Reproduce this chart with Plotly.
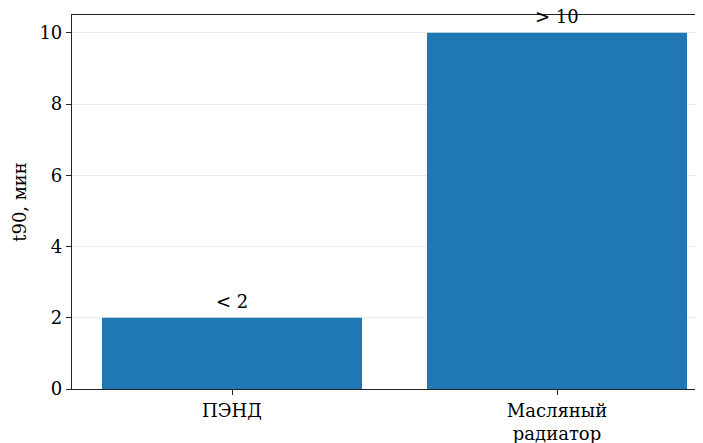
import plotly.graph_objects as go

categories = ["ПЭНД", "Масляный<br>радиатор"]
values = [2, 10]
labels = ["< 2", "> 10"]
yticks = [0, 2, 4, 6, 8, 10]

FONT = "DejaVu Serif"
fig = go.Figure()
fig.add_trace(go.Bar(x=[0, 1], y=values, width=0.8, marker=dict(color="#1f77b4", line=dict(width=0)),
                     showlegend=False, hoverinfo="skip"))
for i, (v, t) in enumerate(zip(values, labels)):
    fig.add_annotation(x=i, y=v, text=t, showarrow=False, yanchor="bottom", yshift=4,
                       font=dict(family=FONT, size=18, color="#000"))

fig.update_layout(
    width=696, height=436, margin=dict(l=64, r=0, t=7, b=53),
    plot_bgcolor="white", paper_bgcolor="white",
    font=dict(family=FONT, size=18, color="#000"),
    xaxis=dict(range=[-0.4923, 1.4523], tickvals=[0, 1], ticktext=categories,
               showline=True, linecolor="#222", linewidth=1.2, mirror=True,
               ticks="outside", ticklen=5, tickcolor="#222", showgrid=False, zeroline=False),
    yaxis=dict(range=[0, 10.5], tickvals=yticks, showline=True, linecolor="#222", linewidth=1.2,
               ticks="outside", ticklen=5, tickcolor="#222", showgrid=True, gridcolor="#ebebeb",
               gridwidth=1, zeroline=False,
               title=dict(text="t90, мин", standoff=8, font=dict(size=18))),
)
fig.write_html("out.html")
